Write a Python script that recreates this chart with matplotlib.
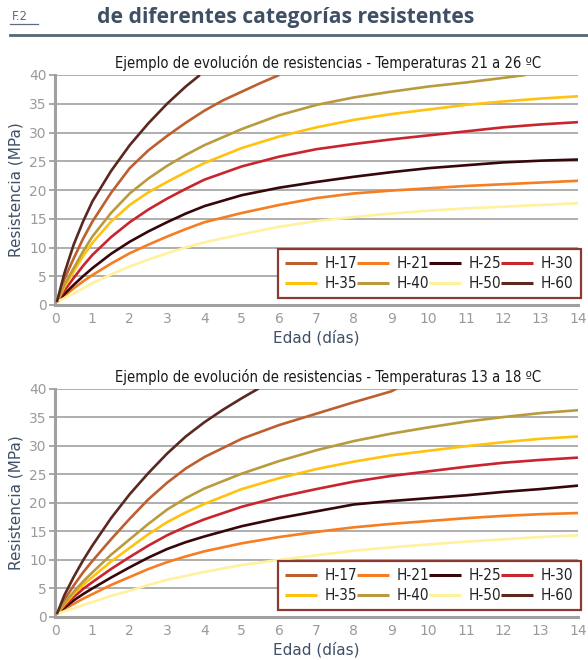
import matplotlib
matplotlib.use("Agg")
import matplotlib.pyplot as plt
from matplotlib.lines import Line2D

# ---- data -------------------------------------------------------------
series = ["H-17", "H-21", "H-25", "H-30", "H-35", "H-40", "H-50", "H-60"]
colors = {
    "H-17": "#bd5f2e", "H-21": "#f57d22", "H-25": "#36060a", "H-30": "#c9252e",
    "H-35": "#ffc20e", "H-40": "#b99b3e", "H-50": "#fff19e", "H-60": "#5b2820",
}

days = [0.05, 0.25, 0.5, 0.75, 1, 1.5, 2, 2.5, 3, 3.5, 4, 5, 6, 7, 8, 9, 10, 11, 12, 13, 14]

# Temperatures 21 to 26 ºC
warm = {
    "H-17": ([0.05, 0.25, 0.5, 0.75, 1, 1.5, 2, 2.5, 3, 3.5, 4, 4.5, 5, 5.5, 6.0],
             [0.5, 4.5, 8.1, 11.5, 14.5, 19.5, 23.8, 26.9, 29.4, 31.7, 33.8, 35.6, 37.1, 38.6, 40.0]),
    "H-21": (days,
             [0.5, 1.6, 2.9, 4.1, 5.2, 7.2, 9.0, 10.5, 11.9, 13.2, 14.4, 16.0, 17.4, 18.6, 19.4, 19.9, 20.3, 20.7, 21.0, 21.3, 21.6]),
    "H-25": (days,
             [0.5, 1.9, 3.5, 5.0, 6.4, 8.9, 11.0, 12.8, 14.4, 15.9, 17.2, 19.1, 20.4, 21.4, 22.3, 23.1, 23.8, 24.3, 24.8, 25.1, 25.3]),
    "H-30": (days,
             [0.5, 2.5, 4.7, 6.8, 8.7, 11.8, 14.4, 16.6, 18.5, 20.2, 21.8, 24.1, 25.8, 27.1, 28.0, 28.8, 29.5, 30.2, 30.9, 31.4, 31.8]),
    "H-35": (days,
             [0.5, 3.1, 5.8, 8.5, 10.8, 14.5, 17.4, 19.6, 21.4, 23.1, 24.7, 27.3, 29.3, 30.9, 32.2, 33.2, 34.0, 34.8, 35.4, 35.9, 36.3]),
    "H-40": ([0.05, 0.25, 0.5, 0.75, 1, 1.5, 2, 2.5, 3, 3.5, 4, 5, 6, 7, 8, 9, 10, 11, 12, 12.6],
             [0.5, 3.5, 6.4, 9.3, 11.9, 16.0, 19.4, 22.0, 24.2, 26.1, 27.8, 30.6, 33.0, 34.8, 36.1, 37.1, 38.0, 38.7, 39.5, 40.0]),
    "H-50": (days,
             [0.5, 1.2, 2.0, 2.9, 3.8, 5.3, 6.7, 7.9, 9.0, 10.0, 10.9, 12.3, 13.6, 14.6, 15.3, 15.9, 16.4, 16.8, 17.1, 17.4, 17.7]),
    "H-60": ([0.05, 0.25, 0.5, 0.75, 1, 1.5, 2, 2.5, 3, 3.5, 3.88],
             [0.5, 5.5, 10.5, 14.5, 18.0, 23.3, 27.8, 31.6, 35.0, 38.0, 40.0]),
}

# Temperatures 13 to 18 ºC
cool = {
    "H-17": ([0.05, 0.25, 0.5, 0.75, 1, 1.5, 2, 2.5, 3, 3.5, 4, 5, 6, 7, 8, 9, 9.15],
             [0.5, 3.0, 5.5, 7.8, 9.8, 13.6, 17.2, 20.6, 23.5, 26.0, 28.0, 31.2, 33.6, 35.6, 37.6, 39.5, 40.0]),
    "H-21": (days,
             [0.5, 1.4, 2.3, 3.2, 4.0, 5.6, 7.0, 8.4, 9.6, 10.6, 11.5, 12.9, 14.0, 14.9, 15.7, 16.3, 16.8, 17.3, 17.7, 18.0, 18.2]),
    "H-25": (days,
             [0.5, 1.6, 2.9, 4.0, 5.0, 6.9, 8.7, 10.4, 11.9, 13.1, 14.1, 15.9, 17.3, 18.5, 19.7, 20.3, 20.8, 21.3, 21.9, 22.4, 23.0]),
    "H-30": (days,
             [0.5, 1.9, 3.5, 4.9, 6.1, 8.4, 10.5, 12.5, 14.3, 15.8, 17.1, 19.3, 21.0, 22.4, 23.7, 24.7, 25.5, 26.3, 27.0, 27.5, 27.9]),
    "H-35": (days,
             [0.5, 2.2, 4.0, 5.6, 7.0, 9.7, 12.1, 14.5, 16.6, 18.3, 19.8, 22.4, 24.3, 25.9, 27.2, 28.3, 29.1, 29.9, 30.6, 31.2, 31.6]),
    "H-40": (days,
             [0.5, 2.4, 4.4, 6.2, 7.8, 10.9, 13.6, 16.3, 18.8, 20.8, 22.5, 25.1, 27.3, 29.2, 30.8, 32.1, 33.2, 34.2, 35.0, 35.7, 36.2]),
    "H-50": (days,
             [0.5, 1.0, 1.5, 2.1, 2.6, 3.7, 4.6, 5.6, 6.5, 7.2, 7.9, 9.1, 10.0, 10.8, 11.6, 12.2, 12.7, 13.2, 13.6, 14.0, 14.3]),
    "H-60": ([0.05, 0.25, 0.5, 0.75, 1, 1.5, 2, 2.5, 3, 3.5, 4, 4.5, 5, 5.45],
             [0.5, 3.8, 7.0, 9.9, 12.5, 17.3, 21.5, 25.2, 28.6, 31.6, 34.1, 36.3, 38.3, 40.0]),
}

titles = ["Ejemplo de evolución de resistencias - Temperaturas 21 a 26 ºC",
          "Ejemplo de evolución de resistencias - Temperaturas 13 a 18 ºC"]
x_ticks = list(range(0, 15))
y_ticks = list(range(0, 41, 5))

# ---- styling ------------------------------------------------------------
W, H = 588, 660
tick_grey = "#9a9a9a"
label_blue = "#3e5068"
frame_red = "#8a3a32"

fig = plt.figure(figsize=(W / 100, H / 100), dpi=100)
fig.patch.set_facecolor("white")

# header
fig.text(12 / W, 1 - 16 / H, "F.2", fontsize=8.5, color="#5b6b80",
         va="center", ha="left")
fig.add_artist(Line2D([10 / W, 38 / W], [1 - 24 / H, 1 - 24 / H],
                      color="#5b6b80", lw=0.9))
fig.text(97 / W, 1 - 17 / H, "de diferentes categorías resistentes",
         fontsize=15.2, fontweight="bold", color="#3f4f64",
         family=["Open Sans", "DejaVu Sans"], va="center", ha="left")
fig.add_artist(Line2D([10 / W, 1.0], [1 - 35 / H, 1 - 35 / H],
                      color="#56667a", lw=2.0))


def draw_panel(rect, data, title):
    ax = fig.add_axes(rect)
    handles = {}
    for name in series:
        xs, ys = data[name]
        (ln,) = ax.plot(xs, ys, color=colors[name], lw=1.9, label=name,
                        solid_capstyle="butt", solid_joinstyle="round", zorder=3)
        handles[name] = ln
    ax.set_xlim(0, 14)
    ax.set_ylim(0, 40)
    ax.set_xticks(x_ticks)
    ax.set_yticks(y_ticks)
    ax.grid(axis="y", color="#a8a8a8", lw=1.3, zorder=0)
    ax.set_axisbelow(True)
    for side in ("top", "right"):
        ax.spines[side].set_visible(False)
    for side in ("left", "bottom"):
        ax.spines[side].set_color("#a0a0a0")
        ax.spines[side].set_linewidth(2.2)
    ax.tick_params(axis="y", colors=tick_grey, labelsize=10, length=4,
                   width=1.2, pad=2)
    ax.tick_params(axis="x", colors=tick_grey, labelsize=10, length=0, pad=5)
    ax.set_ylabel("Resistencia (MPa)", fontsize=11, color=label_blue, labelpad=4)
    ax.set_xlabel("Edad (días)", fontsize=11, color=label_blue, labelpad=3)
    ax.set_title(title, fontsize=10.6, color="#1a1a1a", fontstretch="condensed",
                 x=0.522, pad=5)

    # legend filled row by row: 4 columns, 2 rows
    ncol = 4
    order = [series[r * ncol + c] for c in range(ncol) for r in range(2)]
    leg = ax.legend([handles[n] for n in order], order,
                    loc="lower left", bbox_to_anchor=(0.427, 0.03, 0.578, 0.21),
                    mode="expand", ncol=ncol, frameon=True, fancybox=False,
                    handlelength=2.1, handletextpad=0.5,
                    columnspacing=0.8, borderaxespad=0, borderpad=0.45,
                    labelspacing=0.35, prop={"size": 11, "stretch": "condensed"})
    frame = leg.get_frame()
    frame.set_edgecolor(frame_red)
    frame.set_linewidth(1.6)
    frame.set_facecolor("white")
    frame.set_alpha(1)
    for t in leg.get_texts():
        t.set_color("#222222")
    for h in leg.get_lines():
        h.set_linewidth(2.2)
    return ax


draw_panel([55 / W, 1 - 305 / H, 523 / W, 230 / H], warm, titles[0])
draw_panel([55 / W, 1 - 617 / H, 523 / W, 228.5 / H], cool, titles[1])

fig.savefig("out.png", dpi=100, facecolor="white")
